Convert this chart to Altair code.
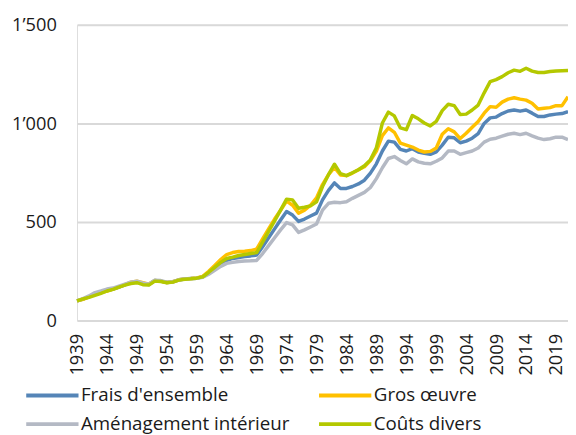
import altair as alt
import pandas as pd

years = list(range(1939, 2022))

frais = [100, 109, 121, 136, 144, 152, 160, 170, 181, 192, 196, 188, 183, 203, 200, 193, 196, 206, 211, 213, 215, 222,
         240, 265, 290, 305, 315, 320, 325, 328, 332, 375, 420, 465, 510, 553, 535, 503, 515, 530, 545,
         612, 660, 698, 670, 670, 680, 693, 712, 748, 795, 860, 910, 905, 868, 860, 872, 855, 848, 843, 856,
         890, 930, 927, 902, 910, 925, 948, 1000, 1028, 1032, 1050, 1063, 1068, 1062, 1068, 1052, 1035, 1035,
         1043, 1047, 1050, 1060]

gros = [100, 108, 120, 135, 142, 150, 160, 170, 182, 195, 200, 192, 185, 203, 200, 193, 197, 207, 212, 213, 216, 224,
        250, 280, 310, 335, 345, 350, 352, 355, 363, 415, 465, 515, 560, 606, 585, 545, 560, 585, 622,
        690, 740, 777, 738, 735, 748, 765, 780, 812, 860, 938, 977, 955, 900, 890, 880, 865, 855, 858, 875,
        945, 973, 957, 923, 950, 980, 1010, 1052, 1085, 1082, 1108, 1123, 1130, 1123, 1118, 1102, 1073, 1077,
        1080, 1090, 1090, 1135]

amenag = [100, 112, 125, 142, 150, 160, 165, 175, 185, 195, 200, 190, 185, 205, 203, 195, 197, 207, 212, 213, 215, 220,
          235, 255, 275, 290, 295, 300, 302, 303, 305, 340, 380, 420, 460, 497, 485, 447, 460, 475, 490,
          560, 595, 600, 598, 603, 620, 635, 650, 675, 720, 775, 822, 832, 812, 795, 820, 805, 798, 795, 808,
          825, 860, 860, 843, 852, 860, 875, 905, 920, 925, 935, 945, 950, 943, 950, 937, 925, 918,
          922, 930, 930, 918]

divers = [100, 110, 118, 128, 138, 150, 158, 170, 180, 188, 192, 182, 180, 200, 198, 192, 195, 205, 210, 212, 215, 222,
          245, 270, 295, 315, 322, 330, 335, 340, 345, 398, 452, 505, 560, 616, 612, 570, 575, 582, 602,
          680, 740, 793, 745, 735, 750, 765, 785, 815, 877, 1002, 1057, 1038, 977, 968, 1040, 1023, 1002, 987, 1010,
          1065, 1097, 1090, 1045, 1047, 1068, 1093, 1155, 1212, 1222, 1237, 1257, 1270, 1264, 1280, 1265, 1258, 1258,
          1263, 1266, 1267, 1268]

# drawing order (later on top)
series_names = ["Frais d'ensemble", "Gros œuvre", "Aménagement intérieur", "Coûts divers"]
series_values = [frais, gros, amenag, divers]

# legend order (legend grid fills column by column)
legend_order = ["Frais d'ensemble", "Aménagement intérieur", "Gros œuvre", "Coûts divers"]
legend_colors = ["#5585b7", "#b4b9c4", "#ffc000", "#b4c800"]

rows = []
for name, vals in zip(series_names, series_values):
    for y, v in zip(years, vals):
        rows.append({"year": y, "value": v, "serie": name})
df = pd.DataFrame(rows)

x_ticks = list(range(1939, 2020, 5))
y_ticks = [0, 500, 1000, 1500]

FONT = "Open Sans"

chart = alt.Chart(df).mark_line(strokeWidth=3.5, strokeJoin="round").encode(
    x=alt.X("year:Q",
            scale=alt.Scale(domain=[1939, 2021], nice=False, zero=False),
            axis=alt.Axis(values=x_ticks, format="d", labelAngle=270, title=None,
                          grid=False, domain=False, ticks=False, tickSize=0,
                          labelPadding=13, labelFontSize=18.5, labelFont=FONT,
                          labelColor="#1a1a1a", labelFlush=False, labelOverlap=False)),
    y=alt.Y("value:Q",
            scale=alt.Scale(domain=[0, 1500], nice=False),
            axis=alt.Axis(values=y_ticks, title=None, domain=False, ticks=False, tickSize=0,
                          labelPadding=21, labelFontSize=18.5, labelFont=FONT, labelColor="#1a1a1a",
                          gridColor="#d9d9d9", gridWidth=2,
                          labelExpr="replace(format(datum.value, ','), ',', '’')")),
    color=alt.Color("serie:N",
                    scale=alt.Scale(domain=legend_order, range=legend_colors),
                    legend=alt.Legend(title=None, orient="none", legendX=-38, legendY=363,
                                      columns=2, columnPadding=21, rowPadding=6,
                                      symbolType="M-2.5,0H2.5", symbolSize=450, symbolStrokeWidth=4,
                                      labelFontSize=19, labelFont=FONT, labelColor="#1a1a1a",
                                      labelOffset=16, labelLimit=400)),
).properties(
    width=498, height=300,
    autosize=alt.AutoSizeParams(type="none"),
    padding={"left": 70, "top": 14, "right": 0, "bottom": 113},
).configure_view(stroke=None).configure(background="white")

chart.save("out.html", embed_options={"renderer": "svg", "actions": False})
